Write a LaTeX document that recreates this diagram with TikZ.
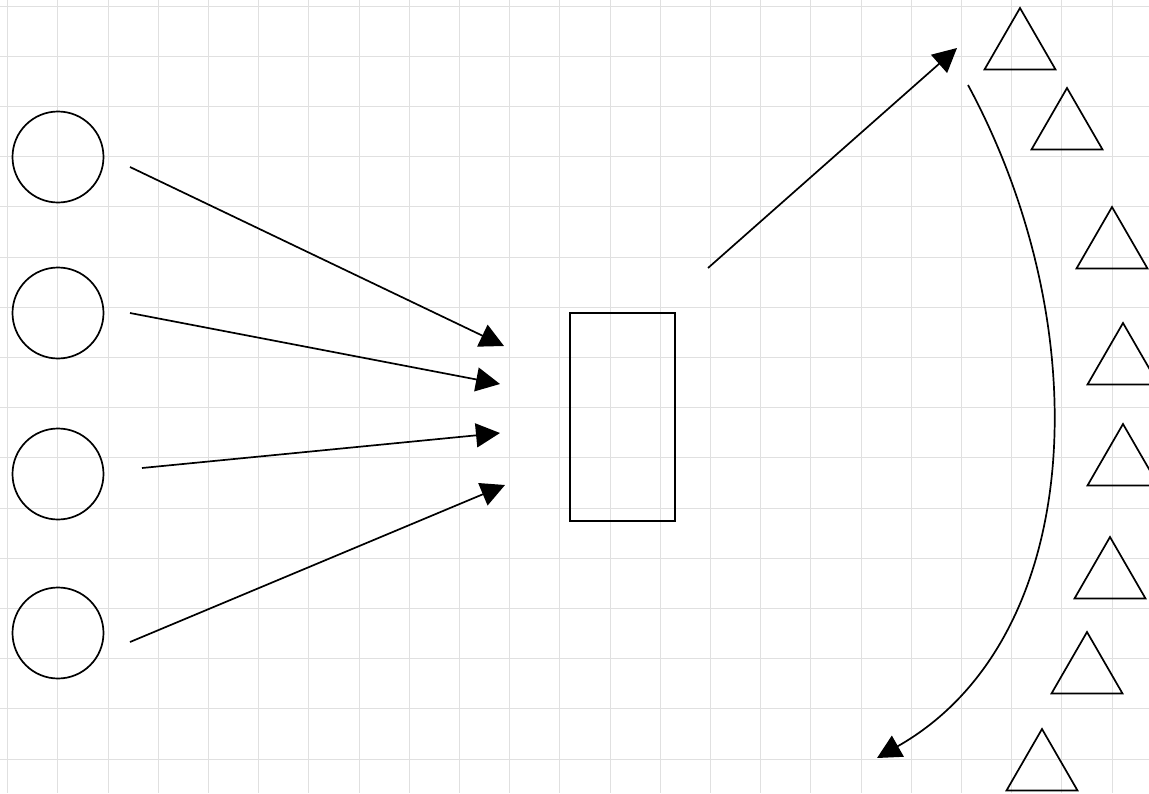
\documentclass[tikz,border=0pt]{standalone}
\usepackage{tikz}
\usetikzlibrary{arrows.meta,shapes.geometric}

\begin{document}
\begin{tikzpicture}[x=1pt,y=-1pt,
		gridline/.style={black!12,line width=0.8pt},
		src/.style={circle,draw,line width=1.7pt,minimum size=91pt,inner sep=0pt},
		tri/.style={regular polygon,regular polygon sides=3,draw,line width=1.7pt,minimum size=82pt,inner sep=0pt},
		flow/.style={line width=1.7pt,-{Triangle[length=24pt,width=24pt]}}]
				\useasboundingbox (0,0) rectangle (1149,793);
				\begin{scope}
					\clip (0,0) rectangle (1149,793);
					\foreach \k in {0,...,22}{
						\draw[gridline] (7.5+50.2*\k,0) -- (7.5+50.2*\k,793);
					};
					\foreach \k in {0,...,15}{
						\draw[gridline] (0,6+50.2*\k) -- (1149,6+50.2*\k);
					};
				\end{scope}
				% sources
				\foreach \i/\y in {1/157,2/313,3/474,4/633}{
					\node[src] (c\i) at (58,\y) {};
				};
				% box in the middle
				\node[draw,line width=1.7pt,minimum width=105pt,minimum height=208pt,inner sep=0pt] (box) at (622.5,417) {};
				% triangles on the right
				\foreach \i/\x/\y in {1/1020/49,2/1067/129,3/1112/248,4/1123/364,5/1123/465,6/1110/578,7/1087/673,8/1042/770}{
					\node[tri] (t\i) at (\x,\y) {};
				};
				\coordinate (s1) at (130,167);
				\coordinate (s2) at (130,313);
				\coordinate (s3) at (142,468);
				\coordinate (s4) at (130,642);
				\coordinate (e1) at (504,346);
				\coordinate (e2) at (500,384);
				\coordinate (e3) at (500,433);
				\coordinate (e4) at (505,485);
				\foreach \i in {1,...,4}{
					\draw[flow] (s\i) -- (e\i);
				};
				\coordinate (out) at (708,268);
				\coordinate (up) at (957,48);
				\draw[flow] (out) -- (up);
				\coordinate (top) at (968,85);
				\coordinate (down) at (877,758);
				\draw[flow] (top) .. controls (1100,330) and (1085,640) .. (down);
			\end{tikzpicture}
\end{document}
